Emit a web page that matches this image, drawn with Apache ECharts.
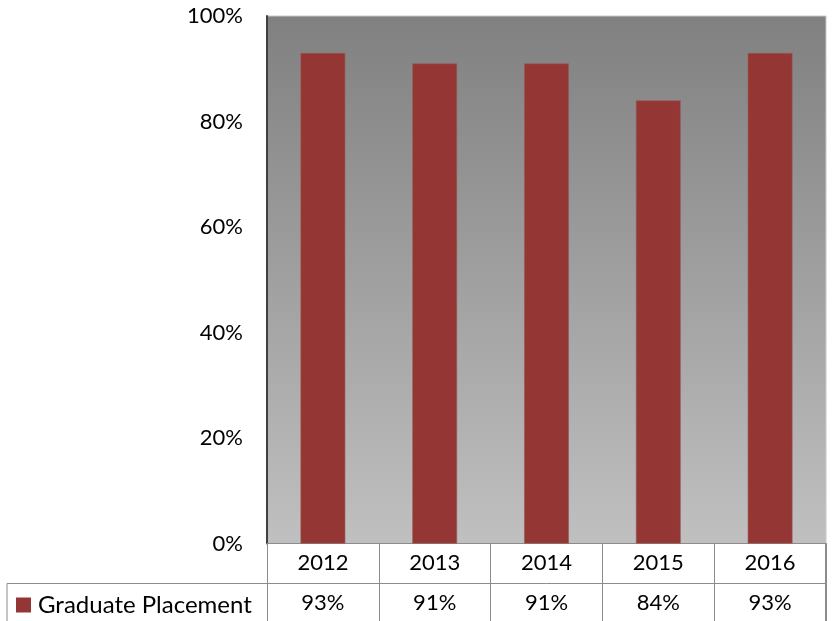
<!DOCTYPE html>
<html>
<head>
<meta charset="utf-8">
<script src="https://cdn.jsdelivr.net/npm/echarts@6/dist/echarts.min.js"></script>
<style>
  html, body { margin: 0; padding: 0; background: #ffffff; }
  #chart { width: 836px; height: 621px; }
</style>
</head>
<body>
<div id="chart"></div>
<script>
// Graduate placement rate by year
const years = ['2012', '2013', '2014', '2015', '2016'];
const placement = [93, 91, 91, 84, 93];
const yTicks = [0, 20, 40, 60, 80, 100];
const seriesName = 'Graduate Placement';

const FONT = 'Lato, "Open Sans", sans-serif';
const BAR = '#943634';
const TABLE_LINE = '#8c8c8c';

const chart = echarts.init(document.getElementById('chart'), null, { renderer: 'canvas' });

const grid = { left: 267, right: 10, top: 16, bottom: 77.5 };

chart.setOption({
  animation: false,
  backgroundColor: '#ffffff',
  grid: {
    left: grid.left, right: grid.right, top: grid.top, bottom: grid.bottom,
    show: true,
    borderColor: '#c8c8c8',
    borderWidth: 1,
    backgroundColor: new echarts.graphic.LinearGradient(0, 0, 0, 1, [
      { offset: 0, color: '#808080' },
      { offset: 1, color: '#c0c0c0' }
    ])
  },
  legend: {
    show: true,
    left: 16, top: 593,
    padding: 0,
    itemWidth: 15, itemHeight: 15, itemGap: 0,
    icon: 'rect',
    itemStyle: { borderWidth: 0 },
    data: [seriesName],
    textStyle: { fontFamily: FONT, fontSize: 24, color: '#000000', padding: [0, 0, 0, 2] }
  },
  xAxis: [
    {
      type: 'category',
      data: years,
      position: 'bottom',
      boundaryGap: true,
      axisLine: { show: true, lineStyle: { color: TABLE_LINE, width: 1 } },
      axisTick: { show: true, length: 40, lineStyle: { color: TABLE_LINE, width: 1 } },
      axisLabel: { fontFamily: FONT, fontSize: 22, color: '#000000', margin: 8 }
    },
    {
      type: 'category',
      data: years,
      position: 'bottom',
      offset: 40,
      boundaryGap: true,
      axisLine: { show: true, lineStyle: { color: TABLE_LINE, width: 1 } },
      axisTick: { show: true, length: 38, lineStyle: { color: TABLE_LINE, width: 1 } },
      axisLabel: {
        fontFamily: FONT, fontSize: 22, color: '#000000', margin: 8,
        formatter: (v, i) => placement[i] + '%'
      }
    }
  ],
  yAxis: {
    type: 'value',
    min: yTicks[0], max: yTicks[yTicks.length - 1], interval: 20,
    axisLine: { show: true, lineStyle: { color: '#404040', width: 2 } },
    axisTick: { show: false },
    splitLine: { show: false },
    axisLabel: { fontFamily: FONT, fontSize: 22, color: '#000000', margin: 24, formatter: '{value}%' }
  },
  series: [{
    name: seriesName,
    type: 'bar',
    xAxisIndex: 0,
    data: placement,
    barWidth: '40%',
    itemStyle: { color: BAR, borderColor: '#9a5a58', borderWidth: 0.6 }
  }]
});

// Border round the legend cell of the data table
const rowTop = chart.convertToPixel({ gridIndex: 0 }, [0, 0])[1] + 40;
chart.setOption({
  graphic: [{
    type: 'polyline',
    shape: { points: [[grid.left, rowTop], [7, rowTop], [7, 621]] },
    style: { stroke: TABLE_LINE, lineWidth: 1, fill: null }
  }, {
    type: 'line',
    shape: { x1: 836 - grid.right, y1: rowTop - 40, x2: 836 - grid.right, y2: 621 },
    style: { stroke: TABLE_LINE, lineWidth: 2 }
  }]
});
</script>
</body>
</html>
